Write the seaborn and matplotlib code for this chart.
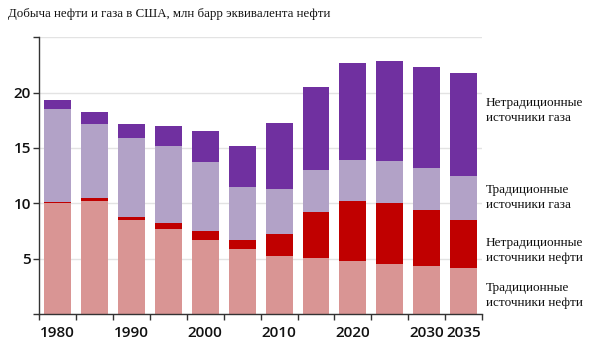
import pandas as pd
import matplotlib
matplotlib.use('Agg')
import matplotlib.pyplot as plt
import seaborn as sns

# Данные: добыча по источникам, млн барр н.э. в сутки
years = [1980, 1985, 1990, 1995, 2000, 2005, 2010, 2015, 2020, 2025, 2030, 2035]
oil_trad = [10.0, 10.25, 8.5, 7.7, 6.7, 5.85, 5.25, 5.05, 4.75, 4.55, 4.35, 4.2]
oil_unconv = [0.1, 0.2, 0.25, 0.5, 0.8, 0.8, 2.0, 4.2, 5.5, 5.5, 5.05, 4.25]
gas_trad = [8.45, 6.7, 7.15, 7.0, 6.25, 4.8, 4.0, 3.8, 3.7, 3.8, 3.75, 4.0]
gas_unconv = [0.8, 1.1, 1.25, 1.75, 2.75, 3.7, 6.05, 7.45, 8.7, 9.0, 9.2, 9.3]

layer_names = ['Традиционные\nисточники нефти', 'Нетрадиционные\nисточники нефти',
               'Традиционные\nисточники газа', 'Нетрадиционные\nисточники газа']
tick_years = ['1980', '', '1990', '', '2000', '', '2010', '', '2020', '', '2030', '2035']

colors = ['#D99594', '#C00000', '#B2A2C7', '#7030A0']

df = pd.DataFrame({'year': [str(y) for y in years], 'oil_trad': oil_trad, 'oil_unconv': oil_unconv,
                   'gas_trad': gas_trad, 'gas_unconv': gas_unconv})
layers = ['oil_trad', 'oil_unconv', 'gas_trad', 'gas_unconv']
cum = df[layers].cumsum(axis=1)
cum['year'] = df['year']

sns.set_theme(style='white')
fig, ax = plt.subplots(figsize=(6, 3.56), dpi=100)
fig.subplots_adjust(left=0.0655, right=0.8033, bottom=0.118, top=0.8952)

ax.set_axisbelow(True)
ax.yaxis.grid(True, color='#E3E3E3', linewidth=1)

# рисуем накопленные суммы сверху вниз, чтобы получился стек
for col, c in reversed(list(zip(layers, colors))):
    sns.barplot(ax=ax, data=cum, x='year', y=col, color=c, width=0.73, saturation=1, edgecolor='none')

ax.set_xlim(-0.5, 11.5)
ax.set_ylim(0, 25)
ax.set_xlabel('')
ax.set_ylabel('')

ax.set_xticks(range(len(years)))
ax.set_xticklabels(tick_years, fontfamily='Open Sans', fontsize=11, fontweight='semibold', color='#111111')
ax.set_xticks([i - 0.5 for i in range(len(years) + 1)], minor=True)
ax.tick_params(axis='x', which='major', length=0, pad=9)
ax.tick_params(axis='x', which='minor', length=4, width=1, color='#333333', direction='out', bottom=True)

ax.set_yticks([0, 5, 10, 15, 20, 25])
ax.set_yticklabels(['', '5', '10', '15', '20', ''], fontfamily='Open Sans', fontsize=11,
                   fontweight='semibold', color='#111111')
ax.tick_params(axis='y', length=4, width=1, color='#333333', direction='out', left=True, pad=2)

for s in ['top', 'right']:
    ax.spines[s].set_visible(False)
for s in ['left', 'bottom']:
    ax.spines[s].set_color('#333333')
    ax.spines[s].set_linewidth(1)

# подписи слоёв справа
label_y = [1.7, 5.7, 10.5, 18.4]
for name, y in zip(layer_names, label_y):
    ax.text(11.6, y, name, ha='left', va='center', fontfamily='Liberation Serif', fontsize=9.5,
            linespacing=1.35, clip_on=False, color='#111111')

fig.text(8 / 600, 1 - 14 / 356, 'Добыча нефти и газа в США, млн барр эквивалента нефти',
         ha='left', va='center', fontfamily='Liberation Serif', fontsize=9.3, color='#111111')

fig.savefig('out.png', dpi=100)
